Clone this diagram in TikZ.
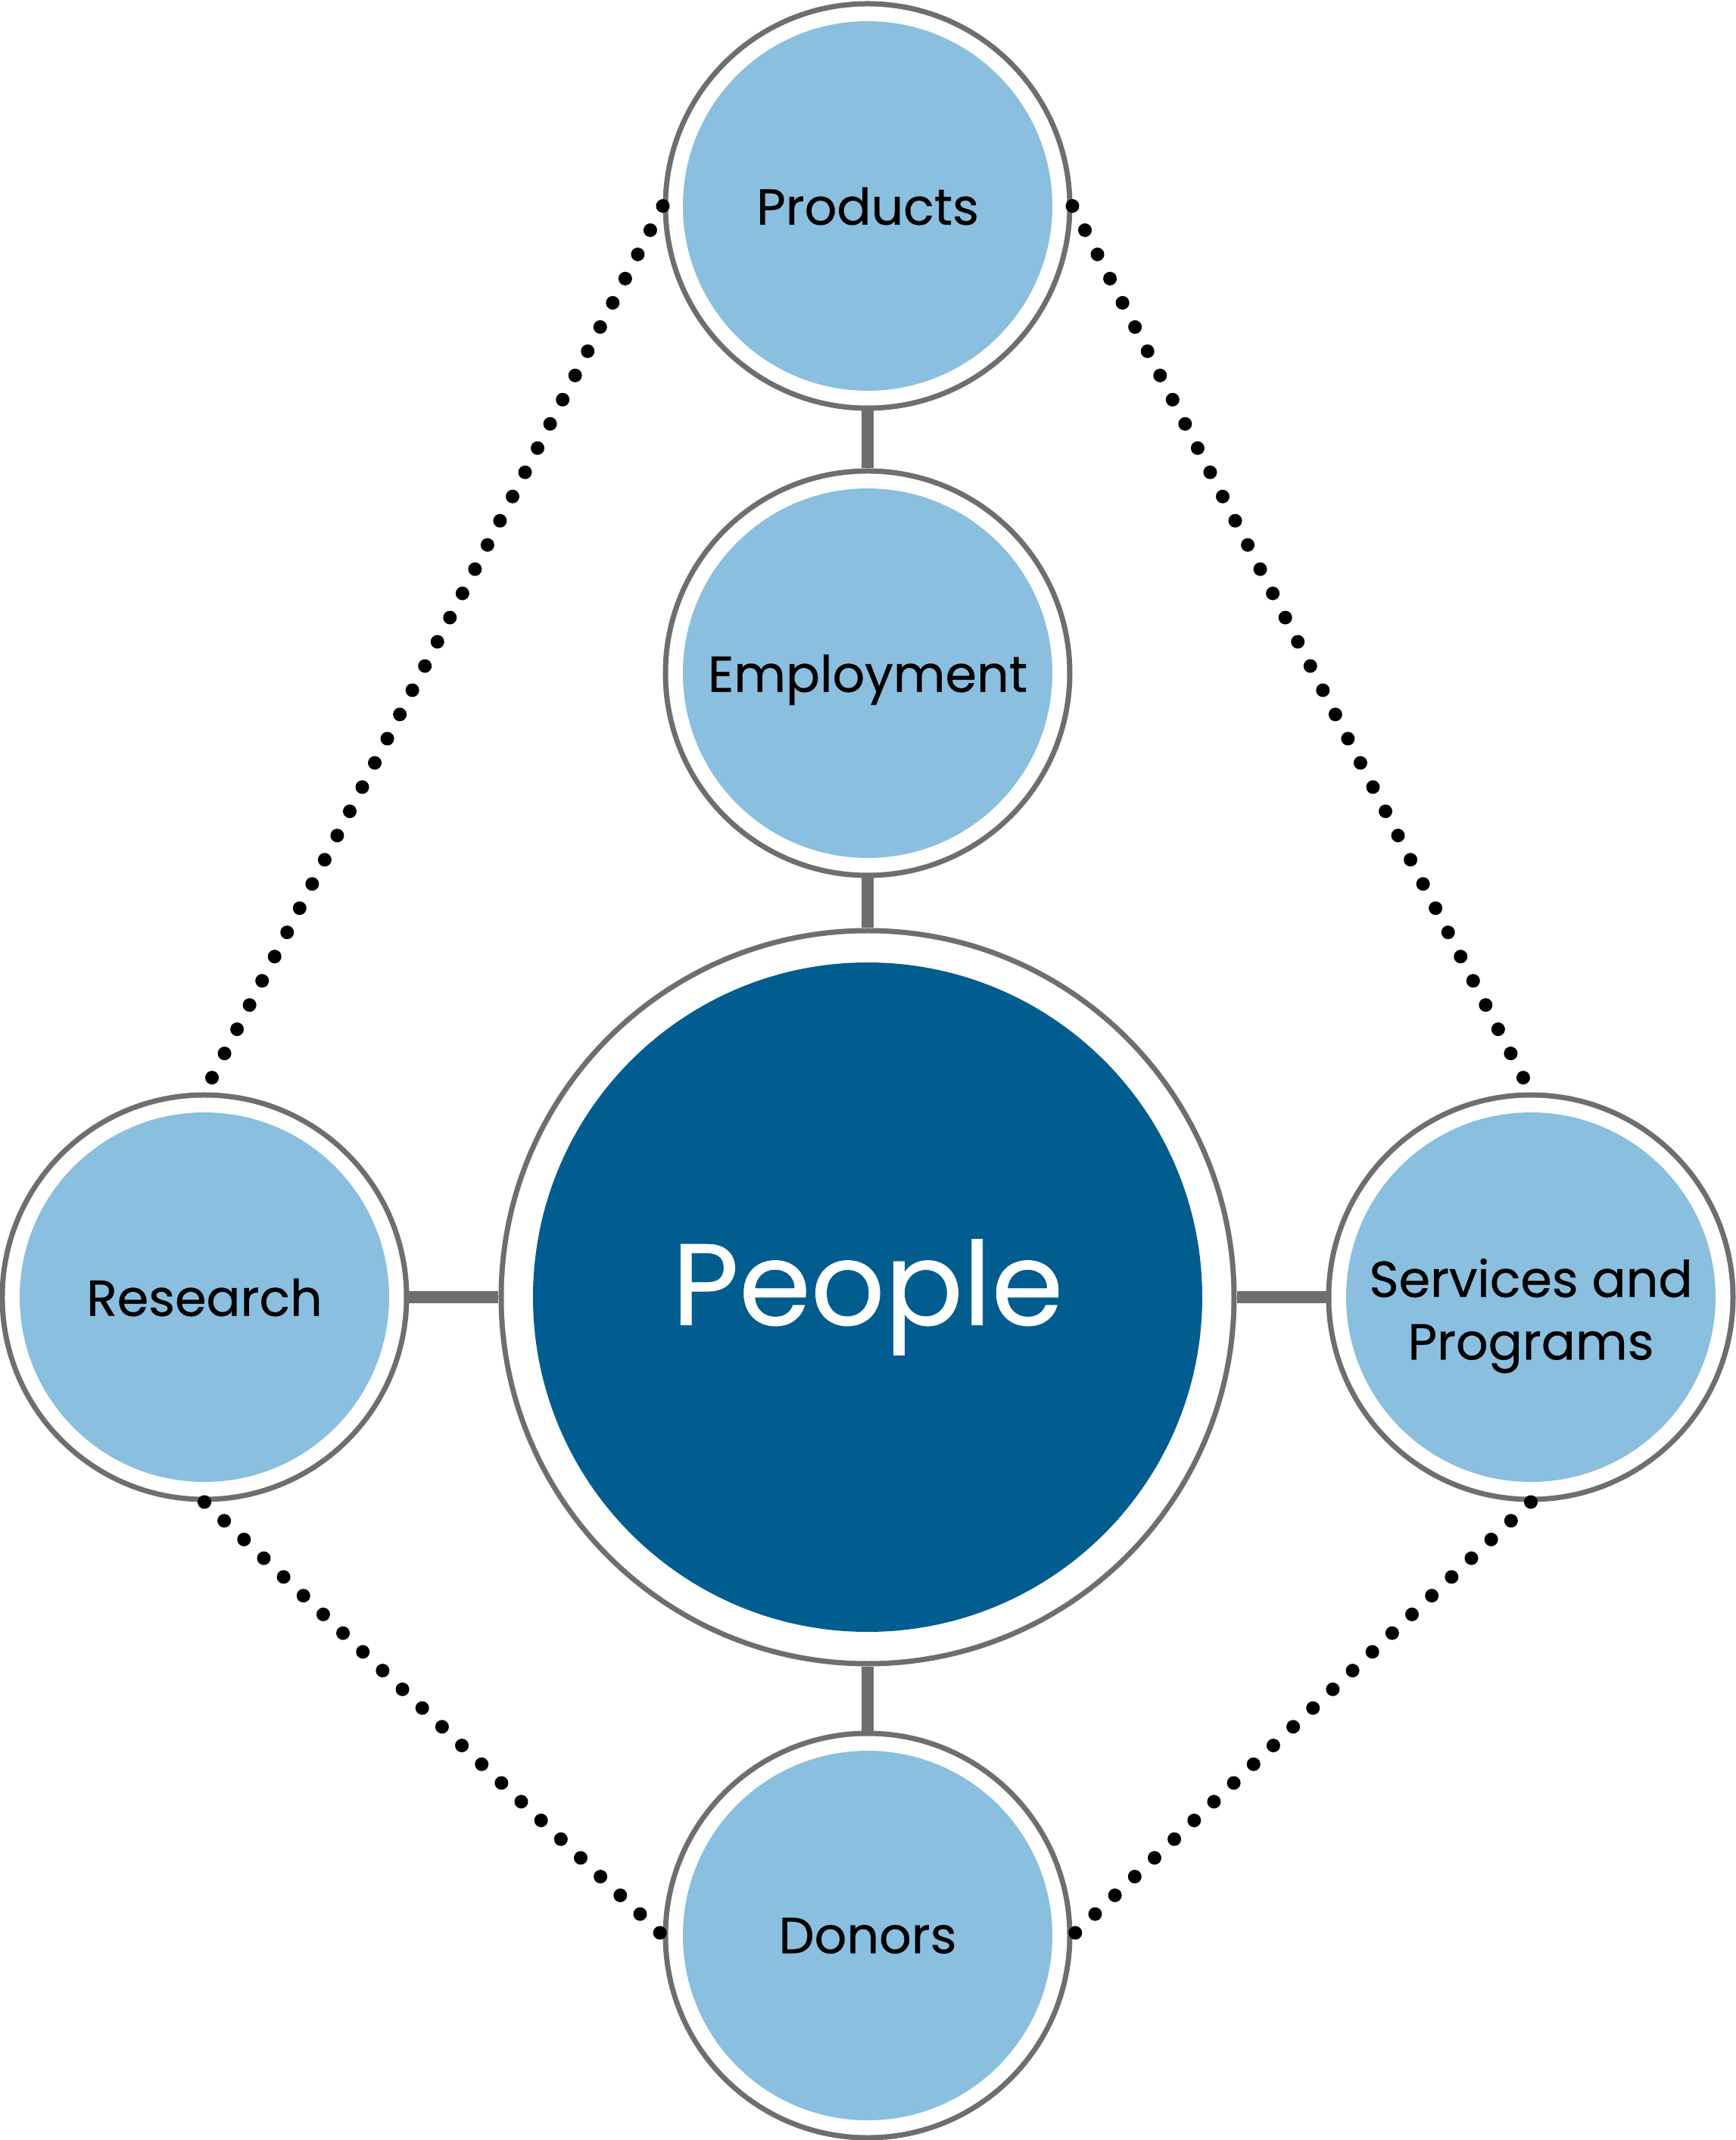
\documentclass[tikz,border=0pt]{standalone}
\usepackage{fontspec}
\setmainfont{Poppins}[FakeBold=0.5]
\usepackage{xcolor}
\usepackage{tikz}
\usetikzlibrary{positioning}

\definecolor{ringgray}{HTML}{6D6E71}
\definecolor{lightblue}{HTML}{8ABFDF}
\definecolor{peopleblue}{HTML}{015D90}

\begin{document}
\begin{tikzpicture}[
  ring/.style={circle, inner sep=0pt, fill=lightblue, minimum size=4.88cm, outer sep=0.265cm, align=center, text depth=0pt, font=\fontsize{19}{23.5}\selectfont,
    preaction={draw=ringgray, line width=0.53cm}, preaction={draw=white, line width=0.39cm}},
  hub/.style={circle, inner sep=0pt, fill=peopleblue, text=white, minimum size=8.84cm, outer sep=0.455cm, font=\fontsize{43.5}{50}\selectfont,
    preaction={draw=ringgray, line width=0.91cm}, preaction={draw=white, line width=0.77cm}},
  bar/.style={draw=ringgray, line width=0.16cm},
  dots/.style={draw=black, line width=0.18cm, line cap=round, dash pattern=on 0pt off 0.36cm}]

  \useasboundingbox (-11.46,-11.13) rectangle (11.47,17.13);

  \node [hub] (people) at (0,0) {People};
  \node [ring, above=0.66cm of people] (employment) {Employment};
  \node [ring, above=0.76cm of employment] (products) {Products};
  \node [ring, left=1.18cm of people] (research) {Research};
  \node [ring, right=1.18cm of people] (services) {\rule{0pt}{0.82cm}Services and\\Programs};
  \node [ring, below=0.85cm of people] (donors) {Donors};

  \path [bar] (products) -- (employment);
  \path [bar] (employment) -- (people);
  \path [bar] (research) -- (people);
  \path [bar] (people) -- (services);
  \path [bar] (people) -- (donors);

  \path [dots] (products.west) -- (research.north);
  \path [dots] (products.east) -- (services.north);
  \path [dots] (research.south) -- (donors.west);
  \path [dots] (services.south) -- (donors.east);
\end{tikzpicture}
\end{document}
